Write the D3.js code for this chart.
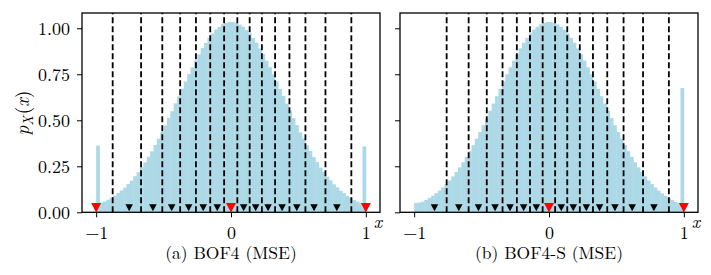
<!DOCTYPE html>
<html>
<head>
<meta charset="utf-8">
<script src="https://cdn.jsdelivr.net/npm/d3@7"></script>
<style>
  body { margin: 0; background: #fff; }
</style>
</head>
<body>
<div id="chart"></div>
<script>
// histogram bins: 80 bins of width 0.025 over [-1, 1]
const binStart = -1, binWidth = 0.025, binCount = 80;

// bin heights (left to right)
const densityA = [
  0.362, 0.052, 0.058, 0.068, 0.079, 0.091, 0.104, 0.119, 0.134, 0.154,
  0.172, 0.196, 0.218, 0.245, 0.271, 0.302, 0.331, 0.366, 0.399, 0.437,
  0.472, 0.513, 0.550, 0.592, 0.630, 0.672, 0.710, 0.751, 0.787, 0.825,
  0.858, 0.892, 0.920, 0.949, 0.971, 0.993, 1.007, 1.022, 1.028, 1.035,
  1.033, 1.029, 1.020, 1.009, 0.991, 0.973, 0.947, 0.922, 0.890, 0.860,
  0.823, 0.789, 0.749, 0.712, 0.670, 0.632, 0.590, 0.552, 0.511, 0.474,
  0.435, 0.401, 0.364, 0.333, 0.300, 0.273, 0.243, 0.220, 0.194, 0.174,
  0.152, 0.136, 0.117, 0.104, 0.089, 0.079, 0.066, 0.058, 0.048, 0.358
];
const densityB = [
  0.051, 0.053, 0.058, 0.067, 0.079, 0.090, 0.104, 0.118, 0.135, 0.153,
  0.173, 0.195, 0.219, 0.244, 0.272, 0.301, 0.332, 0.365, 0.400, 0.436,
  0.473, 0.512, 0.551, 0.591, 0.631, 0.671, 0.711, 0.750, 0.788, 0.824,
  0.859, 0.891, 0.921, 0.948, 0.972, 0.992, 1.008, 1.021, 1.029, 1.034,
  1.034, 1.029, 1.021, 1.008, 0.992, 0.972, 0.948, 0.921, 0.891, 0.859,
  0.824, 0.788, 0.750, 0.711, 0.671, 0.631, 0.591, 0.551, 0.512, 0.473,
  0.436, 0.400, 0.365, 0.332, 0.301, 0.272, 0.244, 0.219, 0.195, 0.173,
  0.153, 0.135, 0.118, 0.103, 0.090, 0.078, 0.067, 0.057, 0.049, 0.675
];

// quantization levels (triangles); dashed lines sit between them
const levelsA = [-1, -0.755, -0.579, -0.440, -0.314, -0.206, -0.102, 0,
  0.094, 0.183, 0.275, 0.379, 0.488, 0.616, 0.785, 1];
const levelsB = [-0.849, -0.669, -0.523, -0.400, -0.289, -0.188, -0.094, 0,
  0.091, 0.180, 0.277, 0.375, 0.489, 0.617, 0.778, 1];
const redA = [-1, 0, 1];
const redB = [0, 1];

const yTicks = [0, 0.25, 0.5, 0.75, 1.0];
const xTicks = [-1, 0, 1];
const captions = ["(a) BOF4 (MSE)", "(b) BOF4-S (MSE)"];

const width = 711, height = 275;
const plotTop = 13, plotBottom = 212.3, panelW = 298;
const serif = "'Latin Modern Roman', 'Liberation Serif', serif";

const svg = d3.select("#chart").append("svg")
  .attr("width", width)
  .attr("height", height);

const edges = d3.range(binCount + 1).map(i => binStart + i * binWidth);

function tri(w, h) {
  return `M${-w / 2},${-h / 2}L${w / 2},${-h / 2}L0,${h / 2}Z`;
}

function drawPanel(left, density, levels, red, caption, showY) {
  const x = d3.scaleLinear().domain([-1.105, 1.105]).range([left, left + panelW]);
  const y = d3.scaleLinear().domain([0, 1.083]).range([plotBottom, plotTop]);
  const g = svg.append("g");

  // histogram
  g.append("g")
    .selectAll("rect")
    .data(density)
    .join("rect")
    .attr("x", (d, i) => x(edges[i]))
    .attr("width", (d, i) => x(edges[i + 1]) - x(edges[i]) + 0.4)
    .attr("y", d => y(d))
    .attr("height", d => y(0) - y(d))
    .attr("fill", "#add8e6");

  // decision thresholds
  const thresholds = d3.pairs(levels, (a, b) => (a + b) / 2);
  g.append("g")
    .selectAll("line")
    .data(thresholds)
    .join("line")
    .attr("x1", d => x(d)).attr("x2", d => x(d))
    .attr("y1", y(0)).attr("y2", plotTop)
    .attr("stroke", "#000")
    .attr("stroke-width", 1.8)
    .attr("stroke-dasharray", "6,3");

  // levels
  g.append("g")
    .selectAll("path")
    .data(levels)
    .join("path")
    .attr("transform", d => `translate(${x(d)},${y(0.025)})`)
    .attr("d", d => red.includes(d) ? tri(10, 9.5) : tri(7.5, 7))
    .attr("fill", d => red.includes(d) ? "#ff0000" : "#000");

  // axes
  const yAxis = d3.axisLeft(y).tickValues(yTicks).tickSize(5).tickPadding(7)
    .tickFormat(showY ? d3.format(".2f") : "");
  g.append("g")
    .attr("transform", `translate(${left},0)`)
    .call(yAxis)
    .call(a => a.select(".domain").remove())
    .call(a => a.selectAll("text").style("font-family", serif).style("font-size", "18px"));

  const xAxis = d3.axisBottom(x).tickValues(xTicks).tickSize(5).tickPadding(9)
    .tickFormat(d3.format("d"));
  g.append("g")
    .attr("transform", `translate(0,${plotBottom})`)
    .call(xAxis)
    .call(a => a.select(".domain").remove())
    .call(a => a.selectAll("text").style("font-family", serif).style("font-size", "18px"));

  g.append("rect")
    .attr("x", left).attr("y", plotTop)
    .attr("width", panelW).attr("height", plotBottom - plotTop)
    .attr("fill", "none")
    .attr("stroke", "#000")
    .attr("stroke-width", 1.3);

  g.append("text")
    .attr("x", left + panelW + 2)
    .attr("y", 228.3)
    .attr("text-anchor", "end")
    .style("font-family", serif)
    .style("font-size", "18px")
    .style("font-style", "italic")
    .text("x");

  g.append("text")
    .attr("x", left + panelW / 2)
    .attr("y", 259)
    .attr("text-anchor", "middle")
    .style("font-family", serif)
    .style("font-size", "17.5px")
    .text(caption);
}

drawPanel(82, densityA, levelsA, redA, captions[0], true);
drawPanel(400, densityB, levelsB, redB, captions[1], false);

// y label p_X(x)
const yl = svg.append("text")
  .attr("transform", "translate(29,113) rotate(-90)")
  .attr("text-anchor", "middle")
  .style("font-family", serif)
  .style("font-size", "19px");
yl.append("tspan").style("font-style", "italic").text("p");
yl.append("tspan").style("font-style", "italic").style("font-size", "13.5px").attr("dy", 4).text("X");
yl.append("tspan").attr("dy", -4).attr("dx", 1.5).text("(");
yl.append("tspan").style("font-style", "italic").text("x");
yl.append("tspan").text(")");
</script>
</body>
</html>
